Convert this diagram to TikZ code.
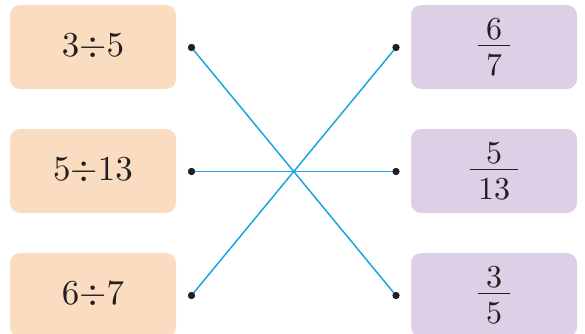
\documentclass[tikz,border=0pt]{standalone}
\usepackage{amsmath}
\usepackage{graphicx}
\definecolor{peach}{HTML}{FADCC0}
\definecolor{lilac}{HTML}{DDD0E6}
\definecolor{wire}{HTML}{1BA4E0}
\definecolor{ink}{HTML}{231F20}
% quotient written with an obelus, set tight like an ordinary symbol
\newcommand\quot[2]{\raisebox{-2pt}{\scalebox{3.5}{$#1\mathord{\div}#2$}}}
% displayed fraction with a bar a little wider than its digits
\newcommand\frc[2]{\raisebox{-1.5pt}{\scalebox{3.2}{$\dfrac{\raisebox{-2.2pt}{$\kern2.65pt#1\kern2.65pt$}}{\kern2.65pt#2\kern2.65pt}$}}}
\tikzset{
  card/.style={rounded corners=10pt, minimum width=166pt, minimum height=84pt,
    inner sep=0pt, text=ink},
  leftcard/.style={card, fill=peach},
  rightcard/.style={card, fill=lilac},
  enddot/.style={circle, fill=ink, inner sep=0pt, minimum size=7pt},
  link/.style={draw=wire, line width=1.5pt}
}
\begin{document}
\begin{tikzpicture}[x=1pt, y=-1pt]
  \path[use as bounding box, clip] (0,0) rectangle (585,333);
  % left column: divisions
  \node[leftcard]  (q1) at (93,47)  {\quot{3}{5}};
  \node[leftcard]  (q2) at (93,171) {\quot{5}{13}};
  \node[leftcard]  (q3) at (93,295) {\quot{6}{7}};
  % right column: fractions
  \node[rightcard] (f1) at (494,47)  {\frc{6}{7}};
  \node[rightcard] (f2) at (494,171) {\frc{5}{13}};
  \node[rightcard] (f3) at (494,295) {\frc{3}{5}};
  % end dots beside the cards
  \node[enddot] (a1) at (191.5,47.5)  {};
  \node[enddot] (a2) at (191.5,171.5) {};
  \node[enddot] (a3) at (191.5,295.5) {};
  \node[enddot] (b1) at (396,47.5)  {};
  \node[enddot] (b2) at (396,171.5) {};
  \node[enddot] (b3) at (396,295.5) {};
  % matching lines
  \draw[link] (a1.center) -- (b3.center);
  \draw[link] (a2.center) -- (b2.center);
  \draw[link] (a3.center) -- (b1.center);
  % keep the dots on top of the line ends
  \foreach \p in {a1,a2,a3,b1,b2,b3}
    \fill[ink] (\p.center) circle[radius=3.5pt];
\end{tikzpicture}
\end{document}
